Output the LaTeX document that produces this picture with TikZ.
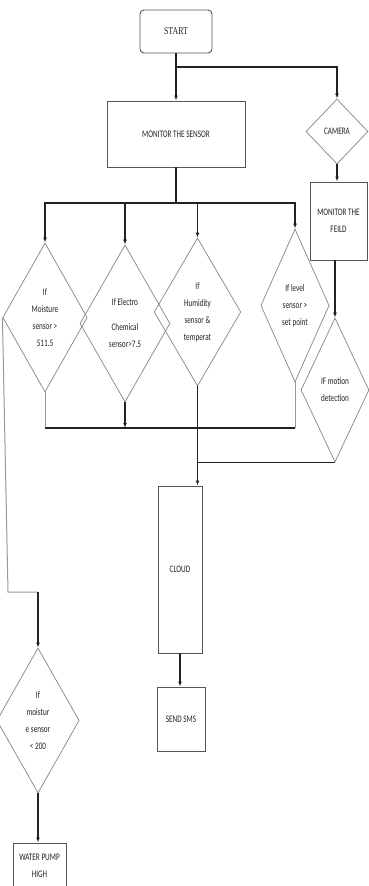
\documentclass[tikz,border=0pt]{standalone}
\usepackage{fontspec}
\usetikzlibrary{shapes.geometric,arrows.meta}
\newfontfamily\nf[FakeStretch=0.72]{Carlito}
\newfontfamily\serfont[FakeStretch=0.75]{Liberation Serif}
\definecolor{boxc}{HTML}{555555}
\definecolor{dia}{HTML}{858585}
\definecolor{dark}{HTML}{222222}
\definecolor{lite}{HTML}{999999}
\definecolor{txt}{HTML}{222222}
\tikzset{
  procbox/.style={draw=boxc, line width=0.9pt, rectangle, inner sep=0pt, align=center, text=txt,
     font=\nf\fontsize{10}{17}\selectfont},
  decis/.style={draw=dia, line width=0.7pt, diamond, inner sep=0pt, align=center, text=txt,
     font=\nf\fontsize{10}{17}\selectfont},
  conn/.style={draw=dark, line width=1.2pt},
  thinconn/.style={draw=lite, line width=1pt},
  arr/.style={-{Latex[length=5pt,width=3.8pt]}},
}
\begin{document}
\begin{tikzpicture}[x=1pt,y=-1pt]
\useasboundingbox[fill=white] (0,0) rectangle (368,886);
% nodes
\node[procbox, rounded corners=4pt, minimum width=72pt, minimum height=43pt, font=\serfont\fontsize{10.5}{12}\selectfont] (start) at (176,31.5) {START};
\node[procbox, minimum width=138pt, minimum height=66pt] (mon) at (176,134) {MONITOR THE SENSOR};
\node[decis, minimum width=62pt, minimum height=65pt] (cam) at (337,131.5) {CAMERA};
\node[procbox, minimum width=57pt, minimum height=78pt] (feild) at (338.5,221) {MONITOR THE\\FEILD};
\node[decis, minimum width=72pt, minimum height=149pt] (d1) at (45,317.5) {If\\Moisture\\sensor >\\511.5};
\node[decis, minimum width=90pt, minimum height=157pt] (d2) at (125,323.5) {If Electro\\[8pt]Chemical\\sensor>7.5};
\node[decis, minimum width=69pt, minimum height=148pt] (d3) at (197.5,312) {If\\Humidity\\sensor \&\\temperat};
\node[decis, minimum width=68pt, minimum height=153pt] (d4) at (295,305.5) {If level\\sensor >\\set point};
\node[decis, minimum width=68pt, minimum height=144pt] (mot) at (335,390) {IF motion\\detection};
\node[procbox, minimum width=44pt, minimum height=167pt] (cloud) at (180,569.5) {CLOUD};
\node[procbox, minimum width=48pt, minimum height=64pt] (sms) at (181,719) {SEND SMS};
\node[decis, minimum width=64pt, minimum height=145pt] (d5) at (38,720.5) {If\\moistur\\e sensor\\< 200};
\node[procbox, minimum width=53pt, minimum height=45pt] (pump) at (39.5,865.5) {WATER PUMP\\HIGH};
% junction coordinates
\coordinate (j1) at (176,67);
\coordinate (bus1) at (176,203);
\coordinate (bus2) at (176,428);
\coordinate (lft) at (8,592);
% connectors from start
\draw[conn, arr] (start.south) -- (mon.north);
\draw[conn, arr] (j1) -| (cam.north);
\draw[conn, arr] (cam.south) -- (cam.south |- feild.north);
\draw[conn, arr] (feild.south -| mot.north) -- (mot.north);
% sensor bus
\draw[conn] (mon.south) -- (bus1);
\draw[conn, arr] (bus1) -| (d1.north);
\draw[conn, arr] (bus1) -| (d2.north);
\draw[conn, arr] (bus1) -| (d3.north);
\draw[conn, arr] (bus1) -| (d4.north);
% bottom bus
\draw[thinconn] (d1.south) -- (d1.south |- bus2);
\draw[thinconn] (d4.south) -- (d4.south |- bus2);
\draw[conn] (d1.south |- bus2) -- (d4.south |- bus2);
\draw[conn, arr] (d2.south) -- (d2.south |- bus2);
\draw[conn, line width=1.5pt, arr] (d3.south) -- (d3.south |- cloud.north);
\draw[conn] (mot.south) -- (mot.south -| d3.south);
\draw[conn, arr] (cloud.south) -- (cloud.south |- sms.north);
% moisture low branch
\draw[thinconn] (d1.west) -- (lft) -- (lft -| d5.north);
\draw[conn, arr] (lft -| d5.north) -- (d5.north);
\draw[conn, arr] (d5.south) -- (d5.south |- pump.north);
\end{tikzpicture}
\end{document}
